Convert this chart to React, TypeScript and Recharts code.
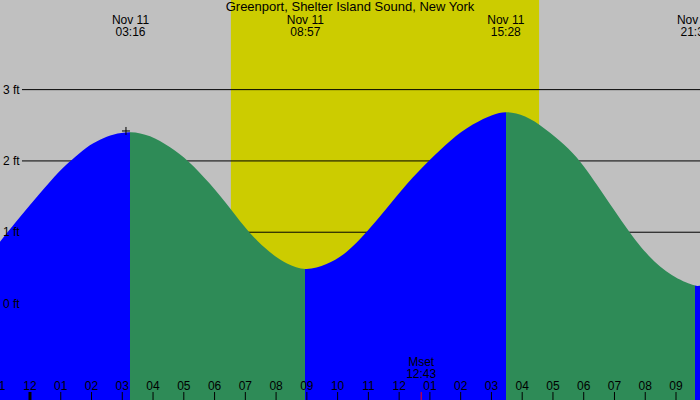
import { AreaChart, Area, XAxis, YAxis, ReferenceArea, ReferenceLine, ReferenceDot } from "recharts";

// x is hours after midnight Nov 11, y is water level in feet
const X_MIN = -0.975;
const X_MAX = 21.78;
const Y_MIN = -1.353;
const Y_MAX = 4.257;

const hours = [
  -0.975, -0.325, 0.325, 0.975, 1.356, 1.843, 2.276, 2.708, 3.267, 3.901, 4.551, 5.146, 5.852,
  6.535, 7.097, 7.802, 8.345, 8.95, 9.646, 10.296, 10.946, 11.596, 12.246, 12.981, 13.654,
  14.411, 15.062, 15.467, 16.092, 16.742, 17.393, 17.88, 18.586, 19.473, 20.1, 20.861, 21.633,
  21.78,
];
const levels = [
  0.867, 1.217, 1.546, 1.872, 2.013, 2.199, 2.303, 2.377, 2.42, 2.363, 2.199, 2.008, 1.686,
  1.321, 0.999, 0.704, 0.554, 0.455, 0.54, 0.704, 0.999, 1.335, 1.686, 2.008, 2.293,
  2.527, 2.654, 2.7, 2.644, 2.457, 2.223, 2.008, 1.568, 0.999, 0.656, 0.376, 0.24,
  0.25,
];

// high / low tide times
const tideHours = [3.267, 8.95, 15.467, 21.633];
const tideTimes = ["03:16", "08:57", "15:28", "21:38"];
const tideDate = "Nov 11";

const sunrise = 6.53;
const sunset = 16.55;

const ftLevels = [0, 1, 2, 3];
const ftLabels = ["0 ft", "1 ft", "2 ft", "3 ft"];
const lineStart = -0.26;

const tickHours = [-1, 0, 1, 2, 3, 4, 5, 6, 7, 8, 9, 10, 11, 12, 13, 14, 15, 16, 17, 18, 19, 20, 21];
const tickLabels = [
  "11", "12", "01", "02", "03", "04", "05", "06", "07", "08", "09", "10", "11",
  "12", "01", "02", "03", "04", "05", "06", "07", "08", "09",
];

const markHours = [3.12];
const markLevels = [2.42];

const moonHours = [12.717];
const moonLabels = ["Mset"];
const moonTimes = ["12:43"];

const data = hours.map((h, i) => ({ h, ft: levels[i] }));

const FONT = "'Liberation Sans', Arial, sans-serif";
const RISING = "#0000ff";
const FALLING = "#2e8b57";

const frac = (h: number) => (h - X_MIN) / (X_MAX - X_MIN);

function gradientStops() {
  const stops = [<stop key="s" offset={0} stopColor={RISING} />];
  tideHours.forEach((h, i) => {
    const before = i % 2 === 0 ? RISING : FALLING;
    const after = i % 2 === 0 ? FALLING : RISING;
    stops.push(<stop key={`a${i}`} offset={frac(h)} stopColor={before} />);
    stops.push(<stop key={`b${i}`} offset={frac(h)} stopColor={after} />);
  });
  stops.push(<stop key="e" offset={1} stopColor={RISING} />);
  return stops;
}

export default function App() {
  return (
    <div style={{ position: "absolute", left: 0, top: 0, width: 700, height: 400, background: "#c0c0c0" }}>
      <AreaChart width={700} height={400} data={data} margin={{ top: 0, right: 0, bottom: 0, left: 0 }}>
        <defs>
          <linearGradient id="tideFill" x1="0" y1="0" x2="1" y2="0">
            {gradientStops()}
          </linearGradient>
        </defs>
        <XAxis dataKey="h" type="number" domain={[X_MIN, X_MAX]} allowDataOverflow hide />
        <YAxis hide type="number" domain={[Y_MIN, Y_MAX]} allowDataOverflow />
        <ReferenceArea x1={sunrise} x2={sunset} fill="#cccc00" fillOpacity={1} stroke="none" zIndex={10} />
        {ftLevels.map((ft) => (
          <ReferenceLine
            key={ft}
            segment={[{ x: lineStart, y: ft }, { x: X_MAX, y: ft }]}
            stroke="#000"
            strokeWidth={1}
            zIndex={20}
          />
        ))}
        <Area
          type="basis"
          dataKey="ft"
          stroke="none"
          fill="url(#tideFill)"
          fillOpacity={1}
          baseValue="dataMin"
          isAnimationActive={false}
          dot={false}
          activeDot={false}
          zIndex={100}
        />
        {ftLevels.map((ft, i) => (
          <ReferenceDot
            key={`l${ft}`}
            x={X_MIN}
            y={ft}
            ifOverflow="visible"
            zIndex={2000}
            shape={(p: any) => (
              <text x={p.cx + 3} y={p.cy + 4} fontSize={12} fontFamily={FONT} fill="#000">
                {ftLabels[i]}
              </text>
            )}
          />
        ))}
        {tickHours.map((h, i) => (
          <ReferenceDot
            key={`t${i}`}
            x={h}
            y={Y_MIN}
            ifOverflow="visible"
            zIndex={2000}
            shape={(p: any) => (
              <g>
                <line x1={p.cx} x2={p.cx} y1={p.cy - 8} y2={p.cy} stroke="#000" strokeWidth={h === 0 ? 3 : 1} />
                <text x={p.cx} y={p.cy - 10} textAnchor="middle" fontSize={12} fontFamily={FONT} fill="#000">
                  {tickLabels[i]}
                </text>
              </g>
            )}
          />
        ))}
        {tideHours.map((h, i) => (
          <ReferenceDot
            key={`tide${i}`}
            x={h}
            y={Y_MAX}
            ifOverflow="visible"
            zIndex={2000}
            shape={(p: any) => (
              <g fontSize={12} fontFamily={FONT} fill="#000" textAnchor="middle">
                <text x={p.cx} y={p.cy + 24}>{tideDate}</text>
                <text x={p.cx} y={p.cy + 36}>{tideTimes[i]}</text>
              </g>
            )}
          />
        ))}
        {markHours.map((h, i) => (
          <ReferenceDot
            key={`m${i}`}
            x={h}
            y={markLevels[i]}
            zIndex={2000}
            shape={(p: any) => (
              <path d={`M${p.cx - 4},${p.cy}H${p.cx + 4}M${p.cx},${p.cy - 4}V${p.cy + 4}`} stroke="#000" strokeWidth={1} />
            )}
          />
        ))}
        {moonHours.map((h, i) => (
          <ReferenceDot
            key={`moon${i}`}
            x={h}
            y={Y_MIN}
            ifOverflow="visible"
            zIndex={2000}
            shape={(p: any) => (
              <g fontSize={12} fontFamily={FONT} fill="#000" textAnchor="middle">
                <line x1={p.cx} x2={p.cx} y1={p.cy - 8} y2={p.cy} stroke="#ff0000" strokeWidth={1} />
                <text x={p.cx} y={p.cy - 34}>{moonLabels[i]}</text>
                <text x={p.cx} y={p.cy - 22}>{moonTimes[i]}</text>
              </g>
            )}
          />
        ))}
      </AreaChart>
      <div
        style={{
          position: "absolute",
          left: 0,
          top: 0,
          width: 700,
          textAlign: "center",
          fontFamily: FONT,
          fontSize: 13,
          lineHeight: "14px",
          color: "#000",
        }}
      >
        Greenport, Shelter Island Sound, New York
      </div>
    </div>
  );
}
